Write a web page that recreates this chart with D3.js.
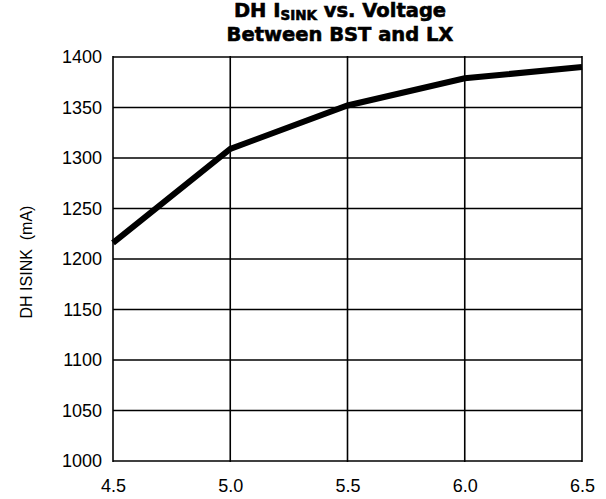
<!DOCTYPE html>
<html>
<head>
<meta charset="utf-8">
<script src="https://cdn.jsdelivr.net/npm/d3@7"></script>
<style>
  body { margin: 0; background: #fff; }
  svg { display: block; font-family: "Liberation Sans", Arial, sans-serif; }
</style>
</head>
<body>
<svg id="chart"></svg>
<script>
const width = 606, height = 499;

// data
const voltage = [4.5, 5.0, 5.5, 6.0, 6.5];
const isink = [1216, 1309, 1352, 1379, 1390];
const xTicks = [4.5, 5.0, 5.5, 6.0, 6.5];
const yTicks = [1000, 1050, 1100, 1150, 1200, 1250, 1300, 1350, 1400];

const margin = {top: 57, right: 24, bottom: 38, left: 113};

const svg = d3.select("#chart")
              .attr("width", width)
              .attr("height", height);

const x = d3.scaleLinear()
            .domain([4.5, 6.5])
            .range([margin.left, width - margin.right]);

const y = d3.scaleLinear()
            .domain([1000, 1400])
            .range([height - margin.bottom, margin.top]);

// grid
svg.append("g")
   .selectAll("line")
   .data(xTicks)
   .enter()
   .append("line")
   .attr("x1", d => x(d)).attr("x2", d => x(d))
   .attr("y1", y(1000) + 1).attr("y2", y(1400) - 1)
   .attr("stroke", "#000")
   .attr("stroke-width", 1.6);

svg.append("g")
   .selectAll("line")
   .data(yTicks)
   .enter()
   .append("line")
   .attr("x1", x(4.5)).attr("x2", x(6.5))
   .attr("y1", d => y(d)).attr("y2", d => y(d))
   .attr("stroke", "#000")
   .attr("stroke-width", 1.6);

// axes (labels only)
const xAxis = svg.append("g")
   .attr("transform", `translate(0,${y(1000)})`)
   .call(d3.axisBottom(x).tickValues(xTicks).tickFormat(d3.format(".1f")).tickSize(0).tickPadding(18));

const yAxis = svg.append("g")
   .attr("transform", `translate(${x(4.5)},0)`)
   .call(d3.axisLeft(y).tickValues(yTicks).tickFormat(d3.format("d")).tickSize(0).tickPadding(11));

[xAxis, yAxis].forEach(a => {
  a.select(".domain").remove();
  a.selectAll("text")
   .attr("font-family", "Liberation Sans, Arial, sans-serif")
   .attr("font-size", 18)
   .attr("fill", "#000");
});

// line
const line = d3.line()
               .x((d, i) => x(voltage[i]))
               .y(d => y(d));

svg.append("path")
   .datum(isink)
   .attr("d", line)
   .attr("fill", "none")
   .attr("stroke", "#000")
   .attr("stroke-width", 6)
   .attr("stroke-linejoin", "miter");

// title
const titleFont = "DejaVu Sans, Liberation Sans, sans-serif";
const title = svg.append("text")
   .attr("x", 340)
   .attr("y", 17)
   .attr("text-anchor", "middle")
   .attr("font-family", titleFont)
   .attr("font-size", 19.5)
   .attr("font-weight", "bold")
   .attr("stroke", "#000")
   .attr("stroke-width", 0.6);
title.append("tspan").text("DH I");
title.append("tspan").attr("font-size", 13.5).attr("dy", 3).text("SINK");
title.append("tspan").attr("dy", -3).text(" vs. Voltage");

svg.append("text")
   .attr("x", 340)
   .attr("y", 41)
   .attr("text-anchor", "middle")
   .attr("font-family", titleFont)
   .attr("font-size", 19.5)
   .attr("font-weight", "bold")
   .attr("stroke", "#000")
   .attr("stroke-width", 0.6)
   .text("Between BST and LX");

// y label
svg.append("text")
   .attr("transform", `translate(32,262) rotate(-90)`)
   .attr("text-anchor", "middle")
   .attr("font-size", 16)
   .attr("xml:space", "preserve")
   .text("DH ISINK  (mA)");
</script>
</body>
</html>
